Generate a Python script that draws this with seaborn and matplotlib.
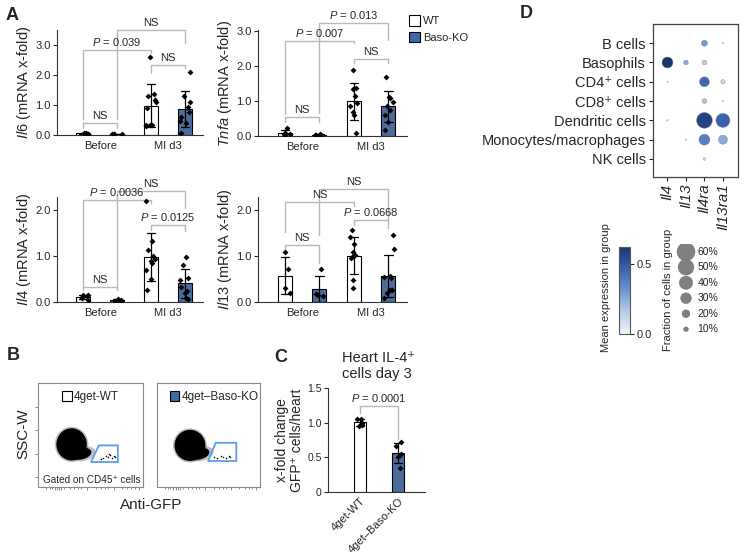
import numpy as np
import pandas as pd
import matplotlib.pyplot as plt
import matplotlib.cm as cm
import seaborn as sns
from matplotlib.patches import Patch, Polygon, Ellipse
from matplotlib.colors import LinearSegmentedColormap, Normalize

sns.set_style("ticks")
plt.rcParams["font.family"] = ["Liberation Sans", "DejaVu Sans"]
plt.rcParams["mathtext.fontset"] = "custom"
plt.rcParams["mathtext.rm"] = "Liberation Sans"
plt.rcParams["mathtext.it"] = "Liberation Sans:italic"

# ---------------- data ----------------
conds = ["Before WT", "Before KO", "MI WT", "MI KO"]
genos = ["WT", "KO", "WT", "KO"]

il6_bwt = [0.03, 0.06, 0.05, 0.08, 0.04]
il6_bko = [0.02, 0.04, 0.03, 0.05]
il6_mwt = [2.59, 1.38, 1.30, 1.18, 1.10, 0.90, 0.33, 0.33, 0.33, 0.30]
il6_mko = [2.11, 1.30, 1.09, 0.92, 0.78, 0.61, 0.47, 0.40, 0.06]

tnfa_bwt = [0.22, 0.05, 0.03, 0.06, 0.08]
tnfa_bko = [0.03, 0.04, 0.02, 0.05, 0.03]
tnfa_mwt = [1.89, 1.38, 1.35, 1.15, 0.95, 0.85, 0.70, 0.60, 0.08]
tnfa_mko = [1.70, 1.12, 1.08, 0.98, 0.86, 0.74, 0.60, 0.41, 0.17]

il4_bwt = [0.16, 0.15, 0.12, 0.09, 0.05, 0.10]
il4_bko = [0.02, 0.06, 0.04, 0.03, 0.05]
il4_mwt = [2.19, 1.33, 1.13, 0.99, 0.93, 0.89, 0.84, 0.70, 0.50, 0.25]
il4_mko = [0.97, 0.81, 0.52, 0.48, 0.32, 0.23, 0.19, 0.09, 0.07]

il13_bwt = [1.08, 0.72, 0.30, 0.19]
il13_bko = [0.71, 0.18, 0.15, 0.12]
il13_mwt = [1.56, 1.42, 1.26, 1.09, 1.02, 0.99, 0.96, 0.48, 0.30]
il13_mko = [1.45, 1.14, 0.56, 0.54, 0.52, 0.27, 0.25, 0.20, 0.09]

# brackets: label, x1, x2, height, left leg end, right leg end
il6_tests = [("NS", 0, 1, 0.40, 0.23, 0.23), ("$P$ = 0.039", 0, 2, 2.83, 0.55, 2.72),
             ("NS", 1, 3, 3.50, 0.55, 3.06), ("NS", 2, 3, 2.33, 2.06, 2.22)]
tnfa_tests = [("NS", 0, 1, 0.53, 0.41, 0.41), ("$P$ = 0.007", 0, 2, 2.72, 0.64, 2.65),
              ("$P$ = 0.013", 1, 3, 3.22, 0.65, 2.74), ("NS", 2, 3, 2.19, 2.08, 2.08)]
il4_tests = [("NS", 0, 1, 0.33, 0.25, 0.25), ("$P$ = 0.0036", 0, 2, 2.22, 0.30, 2.15),
             ("NS", 1, 3, 2.40, 0.30, 2.05), ("$P$ = 0.0125", 2, 3, 1.67, 1.57, 1.54)]
il13_tests = [("NS", 0, 1, 1.24, 1.13, 0.85), ("NS", 0, 2, 2.18, 1.53, 2.08),
              ("NS", 1, 3, 2.45, 1.45, 1.78), ("$P$ = 0.0668", 2, 3, 1.78, 1.67, 1.60)]

c_conds = ["4get-WT", "4get\u2013Baso-KO"]
c_wt = [1.06, 1.05, 1.00, 0.96, 0.95]
c_ko = [0.72, 0.67, 0.55, 0.50, 0.35]
c_tests = [("$P$ = 0.0001", 0, 1, 1.24, 1.14, 0.77)]

# flow plots (axis in % of range)
flow_labels = ["4get-WT", "4get\u2013Baso-KO"]
blob_x = [32, 32]
blob_y = [41, 40]
blob_w = [29, 30]
blob_h = [31, 30]
tail_x = [41, 41]
tail_y = [32, 32]
gate_x = [[50.5, 58, 76, 76], [49.5, 57, 77, 77]]
gate_y = [[24, 40, 40, 24], [25, 42.5, 42.5, 25]]
gfp_x = [[62, 65, 67, 69, 70, 72, 73, 60, 68], [55, 58, 62, 64, 67, 70, 71]]
gfp_y = [[28, 30, 29, 31, 28, 30, 29, 27, 32], [29, 28, 30, 29, 28, 30, 29]]

# dot plot
cell_types = ["B cells", "Basophils", "CD4\u207a cells", "CD8\u207a cells",
              "Dendritic cells", "Monocytes/macrophages", "NK cells"]
genes = ["Il4", "Il13", "Il4ra", "Il13ra1"]
frac = [[0.00, 0.00, 0.14, 0.02],
        [0.31, 0.10, 0.10, 0.00],
        [0.02, 0.00, 0.27, 0.09],
        [0.00, 0.00, 0.10, 0.02],
        [0.02, 0.00, 0.50, 0.43],
        [0.00, 0.02, 0.31, 0.24],
        [0.00, 0.00, 0.05, 0.00]]
expr = [[0.00, 0.00, 0.30, 0.05],
        [0.62, 0.25, 0.15, 0.00],
        [0.05, 0.00, 0.45, 0.10],
        [0.00, 0.00, 0.18, 0.05],
        [0.05, 0.00, 0.57, 0.47],
        [0.00, 0.03, 0.38, 0.25],
        [0.00, 0.00, 0.10, 0.00]]
legend_fracs = [0.6, 0.5, 0.4, 0.3, 0.2, 0.1]
legend_labels = ["60%", "50%", "40%", "30%", "20%", "10%"]

blue = "#3f69a9"
grey = "#b8b8b8"
gate_blue = "#5a9cf0"
cmap = LinearSegmentedColormap.from_list("blu", ["#f2f4fa", "#b9cbe9", "#6c96d0", "#3a63b0", "#1b336f"])

fig = plt.figure(figsize=(7.47, 5.54), dpi=100)
W, H = 747, 554


def px_axes(x0, y0, x1, y1):
    return fig.add_axes([x0 / W, 1 - y1 / H, (x1 - x0) / W, (y1 - y0) / H])


def bracket(ax, tests):
    for lab, x1, x2, y, yl, yr in tests:
        ax.plot([x1, x1, x2, x2], [yl, y, y, yr], color=grey, lw=1, clip_on=False, zorder=1)
        ax.annotate(lab, xy=((x1 + x2) / 2, y), xytext=(0, 1.5), textcoords="offset points",
                    ha="center", va="bottom", fontsize=8, annotation_clip=False)


def style_axes(ax):
    sns.despine(ax=ax)
    for s in ["left", "bottom"]:
        ax.spines[s].set_linewidth(0.8)
        ax.spines[s].set_color("#333333")
    ax.tick_params(axis="y", labelsize=8, length=3, width=0.8, pad=1.5)
    ax.set_xlabel("")


def bar_panel(ax, groups, gene, top, yticks, tests):
    df = pd.DataFrame({
        "cond": np.concatenate([[c] * len(g) for c, g in zip(conds, groups)]),
        "geno": np.concatenate([[k] * len(g) for k, g in zip(genos, groups)]),
        "val": np.concatenate(groups)})
    sns.barplot(data=df, x="cond", y="val", hue="geno", order=conds, hue_order=["WT", "KO"],
                palette={"WT": "white", "KO": blue}, dodge=False, width=0.41, errorbar="sd",
                capsize=0.24, err_kws={"color": "black", "linewidth": 0.9},
                edgecolor="black", linewidth=0.8, legend=False, ax=ax)
    sns.stripplot(data=df, x="cond", y="val", order=conds, color="black", marker="D",
                  size=3.0, jitter=0.16, linewidth=0, ax=ax, zorder=5)
    ax.set_xlim(-0.78, 3.54)
    ax.set_ylim(0, top)
    ax.set_yticks(yticks, [f"{t:.1f}" for t in yticks])
    ax.set_xticks([0.5, 2.5], ["Before", "MI d3"], fontsize=8)
    ax.tick_params(axis="x", length=0, pad=4)
    ax.set_ylabel(r"$\mathit{" + gene + r"}$ (mRNA x-fold)", fontsize=10.5, labelpad=2)
    style_axes(ax)
    bracket(ax, tests)


np.random.seed(4)
bar_panel(px_axes(57, 30, 203, 135), [il6_bwt, il6_bko, il6_mwt, il6_mko], "Il6", 3.5, [0, 1, 2, 3], il6_tests)
bar_panel(px_axes(258, 30, 407, 136), [tnfa_bwt, tnfa_bko, tnfa_mwt, tnfa_mko], "Tnfa", 3.03, [0, 1, 2, 3], tnfa_tests)
bar_panel(px_axes(57, 197, 203, 302), [il4_bwt, il4_bko, il4_mwt, il4_mko], "Il4", 2.28, [0, 1, 2], il4_tests)
bar_panel(px_axes(258, 197, 407, 302), [il13_bwt, il13_bko, il13_mwt, il13_mko], "Il13", 2.28, [0, 1, 2], il13_tests)

fig.legend(handles=[Patch(facecolor="white", edgecolor="black", lw=0.8, label="WT"),
                    Patch(facecolor=blue, edgecolor="black", lw=0.8, label="Baso-KO")],
           loc="upper left", bbox_to_anchor=(409 / W, 1 - 15 / H), frameon=False, fontsize=8,
           handlelength=1.0, handleheight=1.1, handletextpad=0.25, labelspacing=0.5,
           borderpad=0, borderaxespad=0)

# ---------------- B: flow plots ----------------
flow_axes = [px_axes(38, 383, 143, 487), px_axes(157, 383, 260, 487)]
for i, ax in enumerate(flow_axes):
    ax.add_patch(Ellipse((blob_x[i], blob_y[i]), blob_w[i] + 3, blob_h[i] + 3, color="0.3", alpha=0.35, lw=0))
    ax.add_patch(Ellipse((tail_x[i] + 2, tail_y[i]), 24, 14, angle=12, color="0.3", alpha=0.35, lw=0))
    ax.add_patch(Ellipse((blob_x[i], blob_y[i]), blob_w[i], blob_h[i], color="black", lw=0))
    ax.add_patch(Ellipse((tail_x[i], tail_y[i]), 20, 11, angle=12, color="black", lw=0))
    ax.add_patch(Polygon(np.column_stack([gate_x[i], gate_y[i]]), closed=True, fill=False,
                         edgecolor=gate_blue, lw=1.3))
    ax.scatter(gfp_x[i], gfp_y[i], s=1.2, color="black", lw=0)
    ax.set_xlim(0, 100)
    ax.set_ylim(0, 100)
    for s in ax.spines.values():
        s.set_color("#8a8a8a")
        s.set_linewidth(0.8)
    ax.set_xticks([16, 18, 20, 22, 47, 72, 96], [])
    ax.set_xticks([8, 11, 13, 25, 30, 34, 38, 41, 55, 60, 64, 67, 80, 85, 89, 92], [], minor=True)
    if i == 0:
        ax.set_yticks([10, 32, 55, 77], [])
    else:
        ax.set_yticks([])
    ax.tick_params(which="both", direction="out", length=2, width=0.6, color="#777777")
    ax.tick_params(which="minor", length=1.2)
    face = "white" if i == 0 else blue
    ax.legend(handles=[Patch(facecolor=face, edgecolor="black", lw=0.8, label=flow_labels[i])],
              loc="upper left", bbox_to_anchor=(0.13 if i == 0 else 0.02, 1.03), frameon=False,
              fontsize=8.5, handlelength=0.8, handleheight=1.0, handletextpad=0.2)
flow_axes[0].text(0.51, 0.07, "Gated on CD45\u207a cells", transform=flow_axes[0].transAxes,
                  ha="center", va="center", fontsize=7.2)
fig.text(23 / W, 1 - 434 / H, "SSC-W", rotation=90, ha="center", va="center", fontsize=11)
fig.text(151 / W, 1 - 505 / H, "Anti-GFP", ha="center", va="center", fontsize=11)

# ---------------- C ----------------
axc = px_axes(328, 388, 425, 492)
cdf = pd.DataFrame({"cond": [c_conds[0]] * len(c_wt) + [c_conds[1]] * len(c_ko), "val": c_wt + c_ko})
sns.barplot(data=cdf, x="cond", y="val", hue="cond", order=c_conds,
            palette={c_conds[0]: "white", c_conds[1]: blue}, dodge=False, width=0.32,
            errorbar="sd", capsize=0.2, err_kws={"color": "black", "linewidth": 0.9},
            edgecolor="black", linewidth=0.8, legend=False, ax=axc)
sns.stripplot(data=cdf, x="cond", y="val", order=c_conds, color="black", marker="D",
              size=3.0, jitter=0.1, linewidth=0, ax=axc, zorder=5)
axc.set_xlim(-0.84, 1.71)
axc.set_ylim(0, 1.5)
axc.set_yticks([0, 0.5, 1.0, 1.5], ["0", "0.5", "1.0", "1.5"])
axc.set_xticks([0, 1], c_conds, rotation=45, ha="right", rotation_mode="anchor", fontsize=8)
axc.tick_params(axis="x", length=0, pad=3)
style_axes(axc)
axc.tick_params(axis="y", labelsize=7.5)
axc.set_ylabel("x-fold change\nGFP\u207a cells/heart", fontsize=10, labelpad=2, linespacing=1.1)
bracket(axc, c_tests)
fig.text(342 / W, 1 - 366 / H, "Heart IL-4\u207a\ncells day 3", ha="left", va="center",
         fontsize=10.5, linespacing=1.15)

# ---------------- D ----------------
axd = px_axes(652.7, 24.3, 737.7, 176.7)
dot_df = pd.DataFrame({"cell": np.repeat(cell_types, len(genes)),
                       "gene": np.tile(genes, len(cell_types)),
                       "frac": np.array(frac).ravel(),
                       "expr": np.array(expr).ravel()})
dot_df["area"] = dot_df["frac"] ** 1.5
sns.scatterplot(data=dot_df, x="gene", y="cell", size="area", sizes=(0, 363), size_norm=(0, 1),
                hue="expr", hue_norm=(0, 0.62), palette=cmap, edgecolor="#8a8a8a",
                linewidth=0.3, legend=False, ax=axd)
axd.set_xlim(-0.8, 3.8)
axd.set_ylim(6.92, -0.98)
axd.set_xticks(range(len(genes)), genes, rotation=90, fontstyle="italic", fontsize=11)
axd.set_yticks(range(len(cell_types)), cell_types, fontsize=10.5)
axd.set_xlabel("")
axd.set_ylabel("")
axd.tick_params(length=3, width=0.8, pad=2)
for s in axd.spines.values():
    s.set_color("#444444")
    s.set_linewidth(0.9)

cax = px_axes(619, 247, 630, 334)
cb = fig.colorbar(cm.ScalarMappable(norm=Normalize(0, 0.62), cmap=cmap), cax=cax, ticks=[0, 0.5])
cb.ax.set_yticklabels(["0.0", "0.5"], fontsize=8)
cb.ax.tick_params(length=3, width=0.8, pad=2)
cb.outline.set_edgecolor("#555555")
cb.outline.set_linewidth(0.8)
fig.text(606 / W, 1 - 288 / H, "Mean expression in group", rotation=90, ha="center", va="center", fontsize=8)

axl = px_axes(676, 244, 745, 337)
axl.scatter(np.full(len(legend_fracs), 0.145), range(len(legend_fracs)),
            s=363 * np.array(legend_fracs) ** 1.5, color="#808080", edgecolor="#6a6a6a", lw=0.3)
for i, lab in enumerate(legend_labels):
    axl.text(0.31, i, lab, va="center", ha="left", fontsize=7.5)
axl.set_xlim(0, 1)
axl.set_ylim(5.5, -0.5)
axl.axis("off")
fig.text(668 / W, 1 - 290 / H, "Fraction of cells in group", rotation=90, ha="center", va="center", fontsize=8)

# panel letters
for lab, x, y in [("A", 12.5, 16), ("B", 13, 356), ("C", 281, 358), ("D", 526, 13)]:
    fig.text(x / W, 1 - y / H, lab, fontsize=13, fontweight="bold", ha="center", va="center")

fig.savefig("out.png", dpi=100)
